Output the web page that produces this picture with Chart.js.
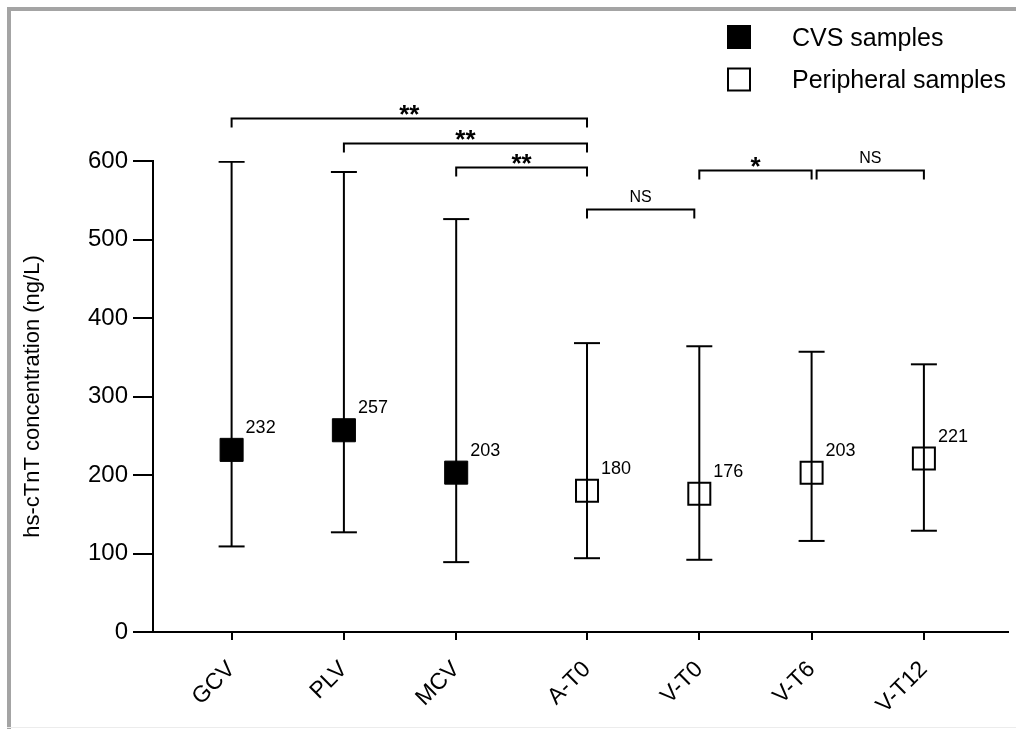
<!DOCTYPE html>
<html>
<head>
<meta charset="utf-8">
<script src="https://cdn.jsdelivr.net/npm/chart.js@4.4.0/dist/chart.umd.min.js"></script>
<style>
  html, body { margin: 0; padding: 0; background: #fff; overflow: hidden; }
  #wrap { width: 1016px; height: 729px; }
</style>
</head>
<body>
<div id="wrap"><canvas id="myChart"></canvas></div>
<script>
// groups on the x axis (there is a small gap between the CVS and the peripheral ones)
const groups = ['GCV', 'PLV', 'MCV', 'A-T0', 'V-T0', 'V-T6', 'V-T12']
const groupPos = [1, 2, 3, 4.165, 5.165, 6.165, 7.165]
const isCvs = [true, true, true, false, false, false, false]

// median and range (ng/L)
const medians = [232, 257, 203, 180, 176, 203, 221]
const lows = [109, 127, 89, 94, 92, 116, 129]
const highs = [599, 586, 526, 368, 364, 357, 341]

const yTicks = [0, 100, 200, 300, 400, 500, 600]

// significance brackets
const compFrom = [0, 1, 2, 3, 4, 5]
const compTo = [3, 3, 3, 4, 5, 6]
const compLabel = ['**', '**', '**', 'NS', '*', 'NS']

const legendLabels = ['CVS samples', 'Peripheral samples']

const FONT = "'Liberation Sans', Arial, Helvetica, sans-serif"
Chart.defaults.font.family = FONT
Chart.defaults.color = '#000'

// build datasets from the arrays
const whiskerData = []
groups.forEach((g, i) => {
  whiskerData.push({ x: groupPos[i], y: lows[i] })
  whiskerData.push({ x: groupPos[i], y: highs[i] })
  whiskerData.push({ x: groupPos[i], y: null })
})
const capData = []
groups.forEach((g, i) => {
  capData.push({ x: groupPos[i], y: lows[i] })
  capData.push({ x: groupPos[i], y: highs[i] })
})
const cvsData = []
const periData = []
groups.forEach((g, i) => {
  const p = { x: groupPos[i], y: medians[i] }
  if (isCvs[i]) cvsData.push(p)
  else periData.push(p)
})

const extras = {
  id: 'extras',
  beforeDraw(chart) {
    const ctx = chart.ctx
    ctx.save()
    ctx.fillStyle = '#fff'
    ctx.fillRect(0, 0, chart.width, chart.height)
    // grey frame
    ctx.fillStyle = '#a4a4a4'
    ctx.fillRect(7, 7, chart.width - 7, 4)
    ctx.fillRect(7, 7, 4, chart.height - 7)
    ctx.fillStyle = '#ececec'
    ctx.fillRect(7, 727, chart.width - 7, 1)
    ctx.restore()
  },
  afterDraw(chart) {
    const ctx = chart.ctx
    const xs = chart.scales.x
    const ys = chart.scales.y
    ctx.save()
    ctx.fillStyle = '#000'
    ctx.strokeStyle = '#000'

    // median value labels
    ctx.font = '18px ' + FONT
    ctx.textAlign = 'left'
    ctx.textBaseline = 'alphabetic'
    groups.forEach((g, i) => {
      const px = xs.getPixelForValue(groupPos[i])
      const py = ys.getPixelForValue(medians[i])
      ctx.fillText(String(medians[i]), px + 14, py - 17)
    })

    // brackets
    const levels = [654.5, 623, 592.5, 539, 588.5, 588.5]
    ctx.lineWidth = 2
    compFrom.forEach((f, k) => {
      let x1 = xs.getPixelForValue(groupPos[f])
      let x2 = xs.getPixelForValue(groupPos[compTo[k]])
      const y = Math.round(ys.getPixelForValue(levels[k])) + 0.5
      // shrink where two brackets meet on the same level
      compFrom.forEach((f2, j) => {
        if (j !== k && levels[j] === levels[k]) {
          if (compTo[j] === f) x1 += 5
        }
      })
      if (compLabel[k] === 'NS' && k === 3) x2 -= 5
      ctx.beginPath()
      ctx.moveTo(x1, y + 9)
      ctx.lineTo(x1, y)
      ctx.lineTo(x2, y)
      ctx.lineTo(x2, y + 9)
      ctx.stroke()
      const cx = (x1 + x2) / 2
      ctx.textAlign = 'center'
      if (compLabel[k] === 'NS') {
        ctx.font = '16px ' + FONT
        ctx.fillText(compLabel[k], cx, y - 8)
      } else {
        ctx.font = 'bold 26px ' + FONT
        ctx.fillText(compLabel[k], cx, y + 4)
      }
    })

    // legend
    const rows = [37, 79.5]
    ctx.font = '25px ' + FONT
    ctx.textAlign = 'left'
    ctx.textBaseline = 'alphabetic'
    legendLabels.forEach((lab, i) => {
      const cy = rows[i]
      if (i === 0) {
        ctx.fillRect(727, cy - 12, 24, 24)
      } else {
        ctx.lineWidth = 2
        ctx.strokeRect(728, cy - 11, 22, 22)
      }
      ctx.fillText(lab, 792, cy + 8.5)
    })
    ctx.restore()
  }
}

new Chart(document.getElementById('myChart'), {
  type: 'scatter',
  data: {
    datasets: [
      {
        label: legendLabels[0],
        data: cvsData,
        pointStyle: 'rect',
        pointRadius: 16.3,
        pointHoverRadius: 16.3,
        backgroundColor: '#000',
        borderColor: '#000',
        borderWidth: 1,
        order: 0
      },
      {
        label: legendLabels[1],
        data: periData,
        pointStyle: 'rect',
        pointRadius: 15.56,
        pointHoverRadius: 15.56,
        backgroundColor: 'rgba(0,0,0,0)',
        borderColor: '#000',
        borderWidth: 2,
        order: 0
      },
      {
        label: 'range',
        data: capData,
        pointStyle: 'line',
        pointRadius: 13,
        pointHoverRadius: 13,
        borderColor: '#000',
        borderWidth: 2,
        order: 1
      },
      {
        label: 'whisker',
        data: whiskerData,
        showLine: true,
        spanGaps: false,
        pointRadius: 0,
        borderColor: '#000',
        borderWidth: 2,
        order: 2
      }
    ]
  },
  options: {
    responsive: true,
    maintainAspectRatio: false,
    animation: false,
    layout: { autoPadding: false, padding: { left: 16, right: 8, top: 161, bottom: 0 } },
    plugins: {
      legend: { display: false },
      tooltip: { enabled: false }
    },
    scales: {
      x: {
        type: 'linear',
        min: 0.3,
        max: 7.914,
        afterBuildTicks: (axis) => { axis.ticks = groupPos.map(v => ({ value: v })) },
        afterFit: (axis) => {
          axis.height = 97
          axis.paddingLeft = 0
          axis.paddingRight = 0
        },
        ticks: {
          autoSkip: false,
          minRotation: 45,
          maxRotation: 45,
          padding: 16,
          font: { size: 23 },
          color: '#000',
          callback: (v, i) => groups[i]
        },
        grid: { drawOnChartArea: false, drawTicks: true, tickLength: 8, color: '#000', lineWidth: 2 },
        border: { color: '#000', width: 2 }
      },
      y: {
        min: 0,
        max: 600,
        afterBuildTicks: (axis) => { axis.ticks = yTicks.map(v => ({ value: v })) },
        afterFit: (axis) => {
          axis.width = 137
          axis.paddingTop = 0
          axis.paddingBottom = 0
        },
        ticks: { padding: 5, font: { size: 24 }, color: '#000' },
        grid: { drawOnChartArea: false, drawTicks: true, tickLength: 20, color: '#000', lineWidth: 2 },
        border: { color: '#000', width: 2 },
        title: {
          display: true,
          text: 'hs-cTnT concentration (ng/L)',
          font: { size: 22 },
          color: '#000',
          padding: { top: 4, bottom: 4 }
        }
      }
    }
  },
  plugins: [extras]
})
</script>
</body>
</html>
